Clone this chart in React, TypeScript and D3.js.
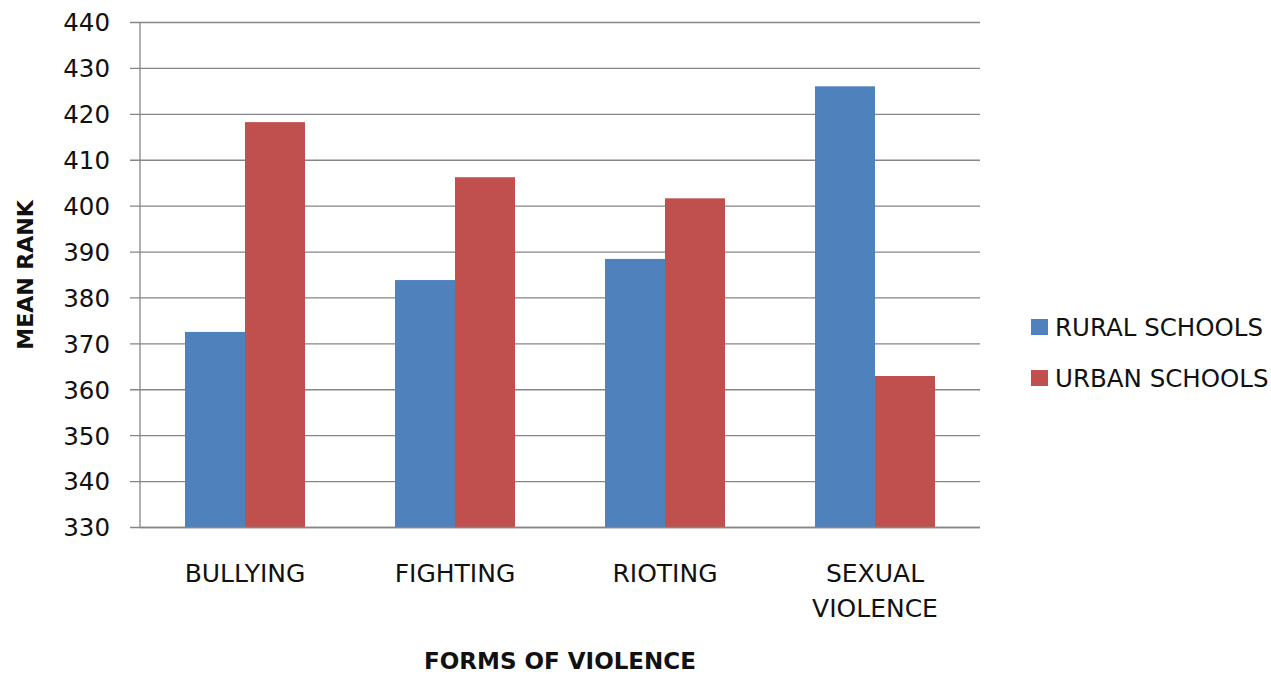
import React from "react";
import * as d3 from "d3";

const categories = ["BULLYING", "FIGHTING", "RIOTING", "SEXUAL VIOLENCE"];
const categoryLines = [["BULLYING"], ["FIGHTING"], ["RIOTING"], ["SEXUAL", "VIOLENCE"]];
const seriesNames = ["RURAL SCHOOLS", "URBAN SCHOOLS"];
const ruralValues = [372.6, 383.9, 388.5, 426.1];
const urbanValues = [418.3, 406.3, 401.7, 363.0];
const yTicks = [330, 340, 350, 360, 370, 380, 390, 400, 410, 420, 430, 440];
const colors = ["#4F81BD", "#C0504D"];

const W = 1271;
const H = 674;
const left = 140;
const right = 980;
const top = 22.5;
const bottom = 527.5;
const FONT = "'DejaVu Sans', Verdana, sans-serif";

export default function App() {
  const x0 = d3.scaleBand<string>().domain(categories).range([left, right]).paddingInner(0).paddingOuter(0);
  const groupW = x0.bandwidth() * (120 / 210);
  const x1 = d3.scaleBand<string>().domain(seriesNames).range([0, groupW]);
  const y = d3.scaleLinear().domain([330, 440]).range([bottom, top]);
  const series = [ruralValues, urbanValues];

  return (
    <svg width={W} height={H} style={{ position: "absolute", left: 0, top: 0, background: "#fff" }} fontFamily={FONT}>
      {yTicks.map((t) => (
        <g key={t}>
          <line x1={left - 10} x2={right} y1={y(t)} y2={y(t)} stroke="#868686" strokeWidth={1.3} />
          <text x={110} y={y(t)} dy="0.36em" textAnchor="end" fontSize={24.5} fill="#111">{t}</text>
        </g>
      ))}
      <line x1={left} x2={left} y1={top} y2={bottom} stroke="#868686" strokeWidth={1.3} />
      {categories.map((c, ci) => (
        <g key={c}>
          {series.map((vals, si) => (
            <rect
              key={si}
              x={(x0(c) as number) + (x0.bandwidth() - groupW) / 2 + (x1(seriesNames[si]) as number)}
              y={y(vals[ci])}
              width={x1.bandwidth()}
              height={y(330) - y(vals[ci])}
              fill={colors[si]}
            />
          ))}
          {categoryLines[ci].map((ln, li) => (
            <text key={li} x={(x0(c) as number) + x0.bandwidth() / 2} y={582 + li * 35} textAnchor="middle" fontSize={25} fill="#111">{ln}</text>
          ))}
        </g>
      ))}
      <line x1={left} x2={right} y1={bottom} y2={bottom} stroke="#868686" strokeWidth={1.3} />
      <text x={(left + right) / 2} y={669} textAnchor="middle" fontSize={23} fontWeight="bold" fill="#111">FORMS OF VIOLENCE</text>
      <text transform={`translate(33, 275) rotate(-90)`} textAnchor="middle" fontSize={22} fontWeight="bold" fill="#111">MEAN RANK</text>
      {seriesNames.map((s, i) => (
        <g key={s}>
          <rect x={1031} y={319 + i * 51} width={17} height={16} fill={colors[i]} />
          <text x={1055} y={327 + i * 51} dy="0.36em" fontSize={24.5} fill="#111">{s}</text>
        </g>
      ))}
    </svg>
  );
}
